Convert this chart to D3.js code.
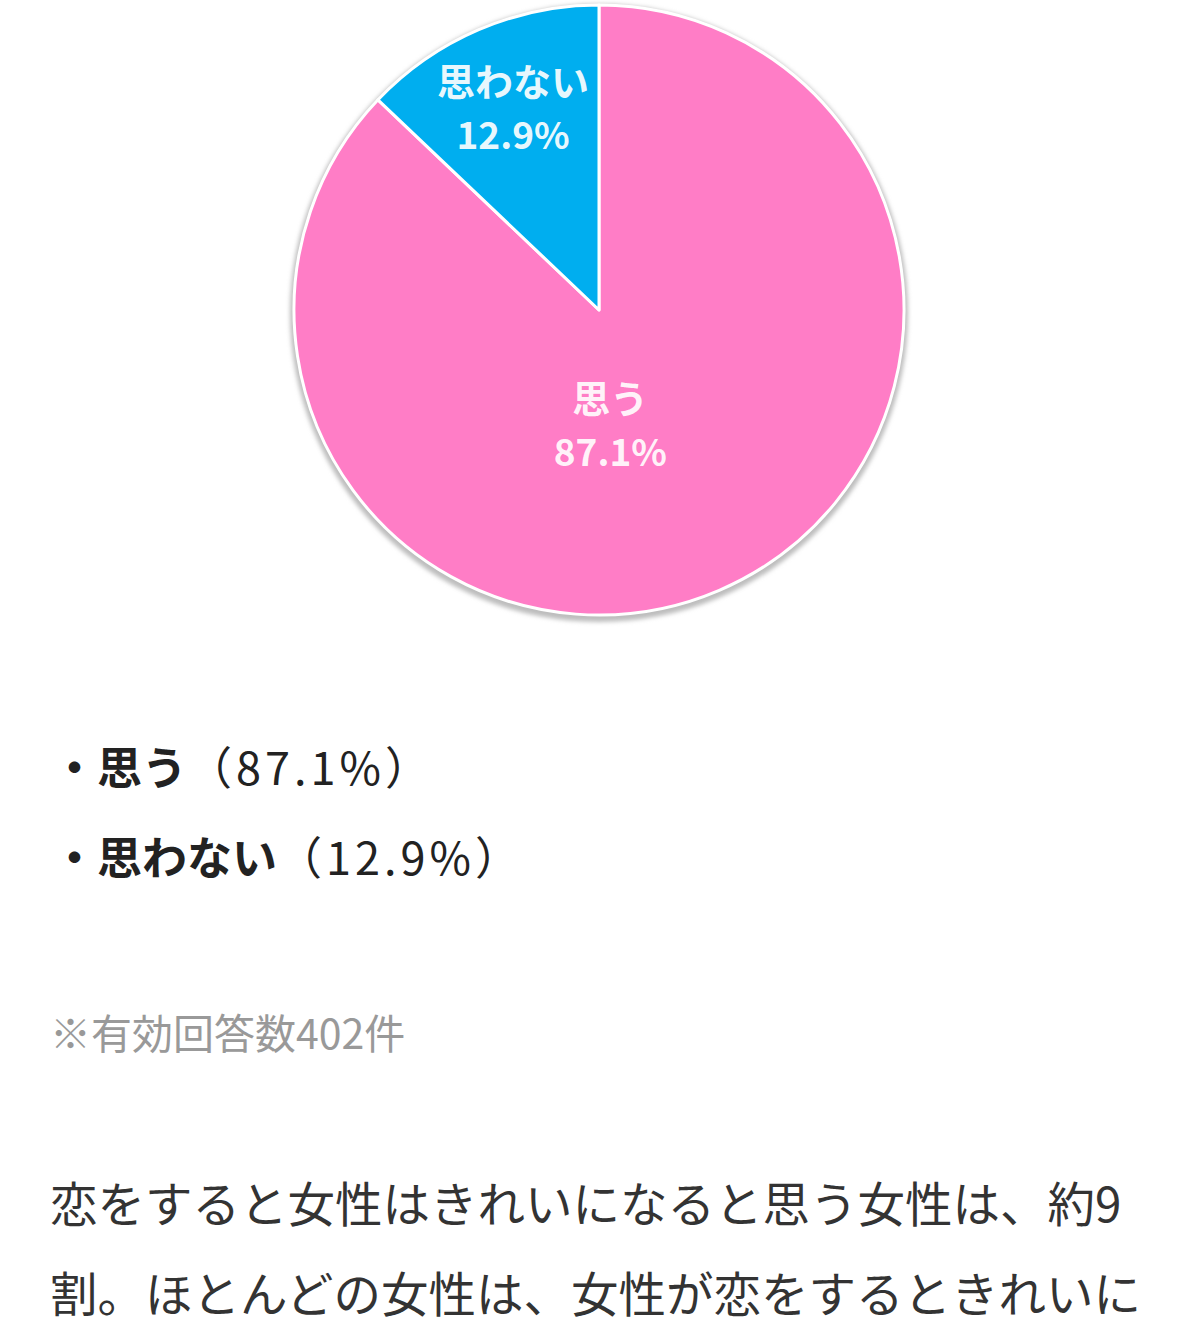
<!DOCTYPE html>
<html>
<head>
<meta charset="utf-8">
<script src="https://cdn.jsdelivr.net/npm/d3@7"></script>
<style>
  body { margin: 0; background: #fff; }
  svg text { font-family: "Noto Sans CJK JP", "Noto Sans", sans-serif; }
</style>
</head>
<body>
<svg id="chart"></svg>
<script>
// data
var labels = ["思う", "思わない"];
var values = [87.1, 12.9];
var colors = ["#FF7DC6", "#00AEEF"];
var note = "※有効回答数402件";
var bodyLines = ["恋をすると女性はきれいになると思う女性は、約9", "割。ほとんどの女性は、女性が恋をするときれいに"];

var width = 1200, height = 1325;
var cx = 599, cy = 310, radius = 305;

var svg = d3.select("#chart")
  .attr("width", width)
  .attr("height", height);

var defs = svg.append("defs");
var blur = defs.append("filter").attr("id", "shadow")
  .attr("x", "-10%").attr("y", "-10%").attr("width", "120%").attr("height", "120%");
blur.append("feGaussianBlur").attr("stdDeviation", 2);

var plot = svg.append("g")
  .attr("transform", "translate(" + cx + "," + cy + ")");

// soft grey rim behind the pie
plot.append("circle")
  .attr("cx", 0).attr("cy", 3)
  .attr("r", radius + 4)
  .attr("fill", "#bdbdbd")
  .attr("filter", "url(#shadow)");

var pie = d3.pie().sort(null).value(function(d) { return d; });
var arcs = pie(values);

var arc = d3.arc().innerRadius(0).outerRadius(radius);

plot.selectAll("path.slice")
  .data(arcs)
  .enter().append("path")
  .attr("class", "slice")
  .attr("d", arc)
  .attr("fill", function(d, i) { return colors[i]; })
  .attr("stroke", "#fff")
  .attr("stroke-width", 3)
  .attr("stroke-linejoin", "round");

// labels inside slices
var labelArc = [
  d3.arc().innerRadius(0).outerRadius(2 * 120),   // large slice
  d3.arc().innerRadius(0).outerRadius(2 * 218)    // small slice
];
var nudge = [[-36, 6], [0, -1]];

var lab = plot.selectAll("g.lab")
  .data(arcs)
  .enter().append("g")
  .attr("class", "lab")
  .attr("transform", function(d, i) {
    var c = labelArc[i].centroid(d);
    return "translate(" + (c[0] + nudge[i][0]) + "," + (c[1] + nudge[i][1]) + ")";
  });

lab.append("text")
  .attr("text-anchor", "middle")
  .attr("y", -13)
  .attr("fill", "#fff")
  .attr("fill-opacity", 0.92)
  .attr("font-size", 38)
  .attr("font-weight", "bold")
  .text(function(d, i) { return labels[i]; });

lab.append("text")
  .attr("text-anchor", "middle")
  .attr("y", 40)
  .attr("fill", "#fff")
  .attr("fill-opacity", 0.92)
  .attr("font-size", 37)
  .attr("font-weight", "bold")
  .text(function(d, i) { return d3.format(".1f")(values[i]) + "%"; });

// bullet list
var list = svg.append("g");
labels.forEach(function(l, i) {
  var t = list.append("text")
    .attr("x", 52)
    .attr("y", 785 + i * 90)
    .attr("fill", "#222")
    .attr("font-size", 45);
  t.append("tspan").attr("font-weight", "bold").text("・" + l);
  t.append("tspan")
    .attr("letter-spacing", 4)
    .text("（" + d3.format(".1f")(values[i]) + "%）");
});

// note
svg.append("text")
  .attr("x", 50)
  .attr("y", 1049)
  .attr("fill", "#999")
  .attr("font-size", 41)
  .text(note);

// paragraph
svg.selectAll("text.body")
  .data(bodyLines)
  .enter().append("text")
  .attr("class", "body")
  .attr("x", 50)
  .attr("y", function(d, i) { return 1222 + i * 90; })
  .attr("fill", "#333")
  .attr("font-size", 47.5)
  .text(function(d) { return d; });
</script>
</body>
</html>
